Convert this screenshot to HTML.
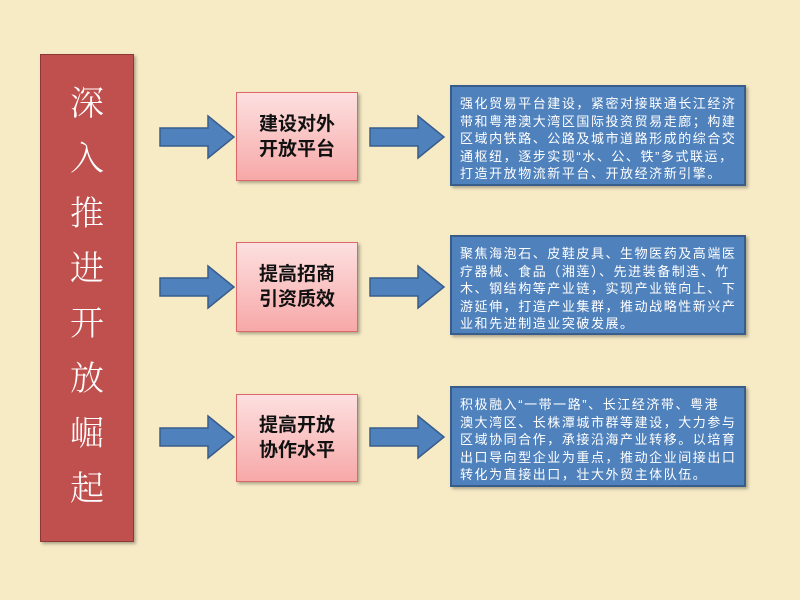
<!DOCTYPE html><html><head><meta charset="utf-8"><style>
body{margin:0;width:800px;height:600px;background:#f7ebc6;position:relative;overflow:hidden;font-family:"Liberation Sans","Noto Sans CJK SC",sans-serif}
.red{position:absolute;left:40px;top:54px;width:94px;height:488px;background:#c0504d;border:1px solid #8c3836;box-shadow:2px 2px 3px rgba(0,0,0,.3);color:#fff;font-family:"Noto Serif CJK SC",serif;font-size:34px;font-weight:300;text-align:center;line-height:55px;padding-top:18px;box-sizing:border-box}
.pink{position:absolute;left:236px;width:120px;background:linear-gradient(#fde0e0,#f7a8a8);border:1px solid #d66;box-shadow:2px 2px 3px rgba(0,0,0,.3);font-size:19px;font-weight:bold;text-align:center;line-height:25px;display:flex;align-items:center;justify-content:center;color:#111}
.blue{position:absolute;left:450px;width:296px;background:#4f81bd;border:2px solid #385d8a;box-shadow:2px 2px 3px rgba(0,0,0,.3);color:#fff;font-size:13px;letter-spacing:1.55px;line-height:17.5px;padding:8px 0 0 8px;box-sizing:border-box;white-space:nowrap;overflow:hidden}
svg{position:absolute;left:0;top:0}
</style></head><body>
<div class="red">深<br>入<br>推<br>进<br>开<br>放<br>崛<br>起</div>
<div class="pink" style="top:92px;height:87px">建设对外<br>开放平台</div>
<div class="pink" style="top:242px;height:88px">提高招商<br>引资质效</div>
<div class="pink" style="top:394px;height:86px">提高开放<br>协作水平</div>
<div class="blue" style="top:85px;height:101px">强化贸易平台建设，紧密对接联通长江经济<br>带和粤港澳大湾区国际投资贸易走廊；构建<br>区域内铁路、公路及城市道路形成的综合交<br>通枢纽，逐步实现“水、公、铁”多式联运，<br>打造开放物流新平台、开放经济新引擎。</div>
<div class="blue" style="top:235px;height:100px">聚焦海泡石、皮鞋皮具、生物医药及高端医<br>疗器械、食品（湘莲）、先进装备制造、竹<br>木、钢结构等产业链，实现产业链向上、下<br>游延伸，打造产业集群，推动战略性新兴产<br>业和先进制造业突破发展。</div>
<div class="blue" style="top:386px;height:101px">积极融入“一带一路”、长江经济带、粤港<br>澳大湾区、长株潭城市群等建设，大力参与<br>区域协同合作，承接沿海产业转移。以培育<br>出口导向型企业为重点，推动企业间接出口<br>转化为直接出口，壮大外贸主体队伍。</div>
<svg width="800" height="600">
<defs><g id="a"><path d="M0,-9 H48 V-21 L74,0 L48,21 V9 H0 Z" fill="#4f81bd" stroke="#385d8a" stroke-width="1.5"/></g></defs>
<use href="#a" x="160" y="137"/><use href="#a" x="370" y="137"/>
<use href="#a" x="160" y="287"/><use href="#a" x="370" y="287"/>
<use href="#a" x="160" y="437"/><use href="#a" x="370" y="437"/>
</svg>
</body></html>
